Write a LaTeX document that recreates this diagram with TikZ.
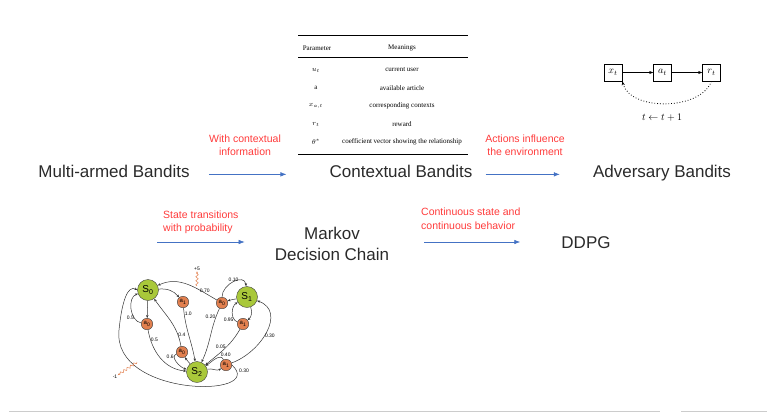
\documentclass[tikz,border=0pt]{standalone}
\usepackage{fontspec}
\setmainfont{Liberation Sans}
\newfontfamily\tabfont{Liberation Serif}
\usetikzlibrary{arrows.meta,decorations.pathmorphing,positioning}
\definecolor{notered}{HTML}{FF3B3B}
\definecolor{flowblue}{HTML}{4472C4}
\definecolor{stategreen}{HTML}{A9C83A}
\definecolor{actorange}{HTML}{E2804F}
\definecolor{inkgray}{HTML}{2A2A2A}
\tikzset{
  title/.style={font=\fontsize{17}{21}\selectfont,text=inkgray,inner sep=0pt,align=center},
  note/.style={font=\fontsize{10.5}{13.5}\selectfont,text=notered,inner sep=0pt},
  flow/.style={draw=flowblue,line width=0.6pt,-{Latex[length=6pt,width=4.5pt]}},
  cell/.style={font=\tabfont\fontsize{7}{8}\selectfont,inner sep=0pt},
  sbox/.style={draw,line width=0.6pt,minimum width=18pt,minimum height=17pt,inner sep=0pt},
  state/.style={circle,draw=black!75,fill=stategreen,minimum size=21pt,inner sep=0pt,font=\fontsize{10}{10}\selectfont},
  act/.style={circle,draw=black!75,fill=actorange,minimum size=11.5pt,inner sep=0pt,font=\fontsize{6}{6}\selectfont},
  edge/.style={draw=black!80,line width=0.5pt,-{Stealth[length=3pt,width=2.4pt]}},
  prob/.style={font=\fontsize{5}{5}\selectfont,inner sep=0.3pt},
  reward/.style={draw=actorange,line width=0.5pt,decorate,decoration={snake,amplitude=1.2pt,segment length=4pt,post length=2pt},-{Stealth[length=2.5pt]}},
}
\begin{document}
\begin{tikzpicture}[x=1pt,y=1pt]
    \useasboundingbox (0,0) rectangle (767,-415);
    %% top row
    \node[title,anchor=base] (mab) at (114,-177) {Multi-armed Bandits};
    \node[title,anchor=base] (cb) at (401,-177) {Contextual Bandits};
    \node[title,anchor=base] (ab) at (662,-177) {Adversary Bandits};
    \draw[flow,shorten <=19pt,shorten >=43pt] (mab.mid east) -- (cb.mid west);
    \draw[flow,shorten <=13pt,shorten >=33pt] (cb.mid east) -- (ab.mid west);
    \node[note,align=center] (ctx) at (245,-145) {With contextual\\information};
    \node[note,align=center] (env) at (525,-145) {Actions influence\\the environment};
    %% parameter table
    \draw[line width=0.9pt] (298,-35) -- (468,-35);
    \draw[line width=0.4pt] (298,-57) -- (468,-57);
    \draw[line width=0.9pt] (298,-154) -- (468,-154);
    \node[cell] (hpar) at (317,-48) {Parameter};
    \node[cell] (hmean) at (402,-48) {Meanings};
    \foreach \sym/\txt [count=\i] in {{$u_t$}/current user,a/available article,{$x_{a,t}$}/corresponding contexts,{$r_t$}/reward,{$\theta^{*}$}/coefficient vector showing the relationship}
        \node[cell] (sym\i) at (316,{-52-18*\i}) {\sym}
            node[cell] (mean\i) at (402,{-52-18*\i}) {\txt};
    %% interaction loop
    \node[sbox] (xt) at (613,-72.5) {$x_t$};
    \node[sbox] (at) at (662.5,-72.5) {$a_t$};
    \node[sbox] (rt) at (711.5,-72.5) {$r_t$};
    \draw[-{Stealth[length=4pt,width=3pt]}] (xt) -- (at);
    \draw[-{Stealth[length=4pt,width=3pt]}] (at) -- (rt);
    \draw[dotted,line width=0.8pt,-{Stealth[length=4pt,width=3pt]}] (rt.south) .. controls (700,-111) and (630,-111) .. (xt.south east);
    \node (upd) at (662,-118) {$t \leftarrow t+1$};
    %% second row
    \node[title] (mdc) at (332,-244) {Markov\\Decision Chain};
    \node[title] (ddpg) at (586,-243) {DDPG};
    \coordinate (start) at (157,-242);
    \draw[flow,shorten >=30pt] (start) -- (mdc.west |- start);
    \draw[flow,shorten <=35pt,shorten >=41pt] (mdc.east |- start) -- (ddpg.west |- start);
    \node[note,align=left,anchor=west] (prob) at (163,-222.5) {State transitions\\with probability};
    \node[note,align=left,anchor=west] (cont) at (421,-218.5) {Continuous state and\\continuous behavior};
    %% markov decision process
    \node[state] (S0) at (148,-290) {S\textsubscript{0}};
    \node[state] (S1) at (247,-297) {S\textsubscript{1}};
    \node[state] (S2) at (197,-372) {S\textsubscript{2}};
    \node[act] (A01) at (183,-302) {a\textsubscript{1}};
    \node[act] (A00) at (147,-324) {a\textsubscript{0}};
    \node[act] (A10) at (222,-303) {a\textsubscript{0}};
    \node[act] (A11) at (243,-324) {a\textsubscript{1}};
    \node[act] (A20) at (182,-352) {a\textsubscript{0}};
    \node[act] (A21) at (226,-365) {a\textsubscript{1}};
    \draw[edge] (S0) -- (A00);
    \draw[edge] (A00) to[out=170,in=200] node[prob,pos=0.25,left] {0.5} (S0);
    \draw[edge] (A00) to[out=-80,in=175] node[prob,pos=0.15,right] {0.5} (S2);
    \draw[edge] (S0) to[out=5,in=130] (A01);
    \draw[edge] (A01) to[out=-85,in=100] node[prob,pos=0.1,right] {1.0} (S2);
    \draw[edge] (S1) to[out=190,in=20] (A10);
    \draw[edge] (A10) to[out=150,in=25] node[prob,pos=0.2,above] (p70) {0.70} (S0);
    \draw[edge] (A10) to[out=90,in=95,looseness=1.3] node[prob,pos=0.5,above] {0.10} (S1);
    \draw[edge] (A10) to[out=-115,in=65] node[prob,pos=0.15,left] {0.20} (S2);
    \draw[edge] (S1) to[out=-70,in=40] (A11);
    \draw[edge] (A11) to[out=160,in=210] node[prob,pos=0.2,left] {0.95} (S1);
    \draw[edge] (A11) to[out=-120,in=40] node[prob,pos=0.45,left] {0.05} (S2);
    \draw[edge] (S2) to[out=130,in=-60] (A20);
    \draw[edge] (A20) to[out=100,in=-55] node[prob,pos=0.2,right] {0.4} (S0);
    \draw[edge] (A20) to[out=-160,in=165] node[prob,pos=0.2,left] {0.6} (S2);
    \draw[edge] (S2) to[out=15,in=215] (A21);
    \draw[edge] (A21) to[out=115,in=35] node[prob,pos=0.25,above right] {0.40} (S2);
    \draw[edge] (A21) to[out=20,in=-20,looseness=1.2] node[prob,pos=0.45,right] {0.30} (S1);
    \draw[edge] (A21.east) .. controls (268,-398) and (112,-398) .. (119,-330)
        .. controls (122,-300) and (128,-285) .. (S0.west);
    \node[prob] (p30) at (244,-371) {0.30};
    %% rewards
    \coordinate (wplus) at (197,-286);
    \coordinate (wminus) at (137,-362);
    \node[prob] (plus) at (197,-269) {+5};
    \node[prob] (minus) at (115,-377) {-1};
    \draw[reward] (wplus) -- (plus);
    \draw[reward] (wminus) -- (minus);
    %% bottom rule
    \draw[black!20,line width=0.8pt] (9,-411) -- (660,-411);
    \draw[black!20,line width=0.8pt] (681,-411) -- (767,-411);
\end{tikzpicture}
\end{document}
